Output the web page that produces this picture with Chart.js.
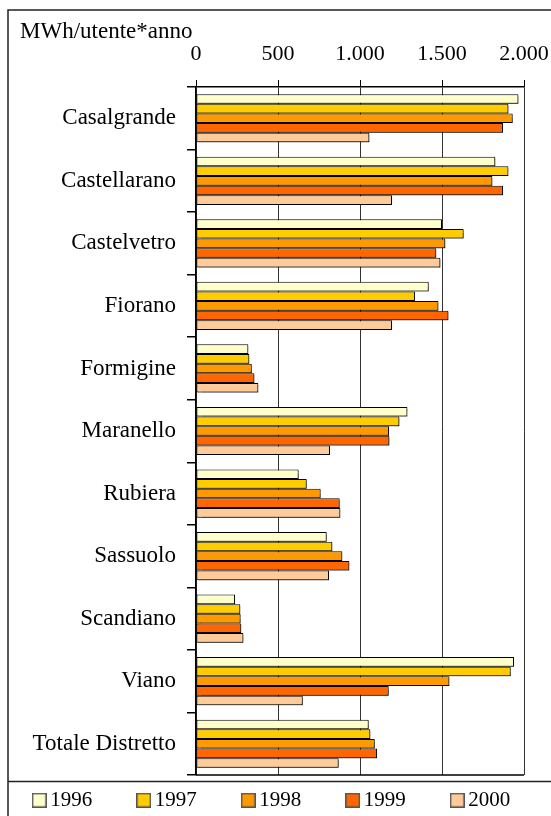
<!DOCTYPE html>
<html>
<head>
<meta charset="utf-8">
<script src="https://cdn.jsdelivr.net/npm/chart.js@4/dist/chart.umd.min.js"></script>
<style>
  html, body { margin: 0; padding: 0; background: #fff; overflow: hidden; }
  #wrap { width: 551px; height: 816px; }
</style>
</head>
<body>
<div id="wrap"><canvas id="chart" width="551" height="816"></canvas></div>
<script>
const categories = ['Casalgrande', 'Castellarano', 'Castelvetro', 'Fiorano', 'Formigine', 'Maranello',
    'Rubiera', 'Sassuolo', 'Scandiano', 'Viano', 'Totale Distretto'];
const years = ['1996', '1997', '1998', '1999', '2000'];
const v1996 = [1966, 1825, 1500, 1419, 319, 1289, 626, 797, 238, 1939, 1053];
const v1997 = [1905, 1905, 1632, 1335, 325, 1240, 675, 831, 270, 1919, 1063];
const v1998 = [1931, 1807, 1520, 1478, 340, 1177, 760, 892, 272, 1545, 1090];
const v1999 = [1872, 1872, 1465, 1539, 356, 1179, 876, 935, 276, 1175, 1104];
const v2000 = [1057, 1195, 1490, 1195, 380, 817, 880, 811, 289, 651, 870];
const xTickLabels = ['0', '500', '1.000', '1.500', '2.000'];
const colors = ['#FFFFCC', '#FFCC00', '#FF9900', '#FF6600', '#FFCC99'];

const serif = 'Liberation Serif';

// legend square, drawn as an image so the text can sit close to it
const swatch = color => {
    const c = document.createElement('canvas');
    c.width = 15;
    c.height = 15;
    const g = c.getContext('2d');
    g.fillStyle = color;
    g.fillRect(0, 0, 15, 15);
    g.strokeStyle = '#555';
    g.lineWidth = 1.5;
    g.strokeRect(0.75, 0.75, 13.5, 13.5);
    return c;
};

// frame round the picture, line above the legend, bottom line of the plot
const frame = {
    id: 'frame',
    afterDraw(chart) {
        const ctx = chart.ctx;
        const a = chart.chartArea;
        ctx.save();
        ctx.strokeStyle = '#222';
        ctx.lineWidth = 1.5;
        ctx.beginPath();
        ctx.moveTo(8, 816);
        ctx.lineTo(8, 10);
        ctx.lineTo(551, 10);
        ctx.moveTo(8, 781.5);
        ctx.lineTo(551, 781.5);
        ctx.stroke();
        ctx.strokeStyle = '#000';
        ctx.beginPath();
        ctx.moveTo(a.left, a.bottom);
        ctx.lineTo(a.right, a.bottom);
        ctx.stroke();
        ctx.restore();
    }
};

// little grey shadow under the bars
const barShadow = {
    id: 'barShadow',
    beforeDatasetsDraw(chart) {
        const ctx = chart.ctx;
        ctx.save();
        ctx.shadowColor = 'rgba(0,0,0,0.45)';
        ctx.shadowOffsetX = 1.5;
        ctx.shadowOffsetY = 1.5;
        ctx.shadowBlur = 1;
    },
    afterDatasetsDraw(chart) {
        chart.ctx.restore();
    }
};

// legend: wide spacing between items but a low strip
const legendPlace = {
    id: 'legendPlace',
    beforeInit(chart) {
        const lg = chart.legend;
        const fit = lg.fit;
        lg.fit = function () {
            const w = this.maxWidth;
            this.maxWidth = 2000;
            fit.call(this);
            this.maxWidth = w;
            this.width = w;
            this.height = 41;
        };
    },
    afterLayout(chart) {
        const lg = chart.legend;
        lg.top -= 36.3;
        lg.left = -12.3;
        lg.right = 600;
    }
};

const ctx = document.getElementById('chart').getContext('2d');
const datasets = [v1996, v1997, v1998, v1999, v2000].map((data, i) => ({
    label: years[i],
    data: data,
    backgroundColor: colors[i],
    borderColor: '#000',
    borderWidth: 1,
    borderSkipped: false,
    categoryPercentage: 0.77,
    barPercentage: 1.0
}));

new Chart(ctx, {
    type: 'bar',
    data: { labels: categories, datasets: datasets },
    options: {
        indexAxis: 'y',
        responsive: false,
        animation: false,
        devicePixelRatio: 1,
        layout: { padding: { left: 20, top: 10, right: 0, bottom: 0 } },
        scales: {
            x: {
                position: 'top',
                min: 0,
                max: 2000,
                ticks: {
                    stepSize: 500,
                    color: '#000',
                    padding: 13,
                    font: { family: serif, size: 22 },
                    callback: (v, i) => xTickLabels[i]
                },
                grid: { color: '#333', lineWidth: 1, tickLength: 7, tickColor: '#000' },
                border: { color: '#000', width: 1.5 },
                afterFit: s => {
                    s.height = 41;
                    s.paddingLeft = 0;
                    s.paddingRight = 27;
                }
            },
            y: {
                ticks: {
                    color: '#000',
                    padding: 11,
                    font: { family: serif, size: 23 }
                },
                grid: { drawOnChartArea: false, offset: true, tickLength: 9, color: '#000', lineWidth: 1.5 },
                border: { color: '#000', width: 1.5 },
                afterFit: s => { s.width = 176; }
            }
        },
        plugins: {
            title: {
                display: true,
                text: 'MWh/utente*anno',
                align: 'start',
                color: '#000',
                font: { family: serif, size: 23, weight: 'normal' },
                padding: { top: 8.4, bottom: 0 }
            },
            legend: {
                position: 'bottom',
                align: 'start',
                labels: {
                    color: '#000',
                    usePointStyle: true,
                    pointStyleWidth: 1,
                    boxHeight: 15,
                    padding: 51,
                    font: { family: serif, size: 21 },
                    generateLabels: chart => Chart.defaults.plugins.legend.labels.generateLabels(chart)
                        .map((item, i) => Object.assign(item, { pointStyle: swatch(colors[i]) }))
                }
            },
            tooltip: { enabled: false }
        }
    },
    plugins: [frame, barShadow, legendPlace]
});
</script>
</body>
</html>
